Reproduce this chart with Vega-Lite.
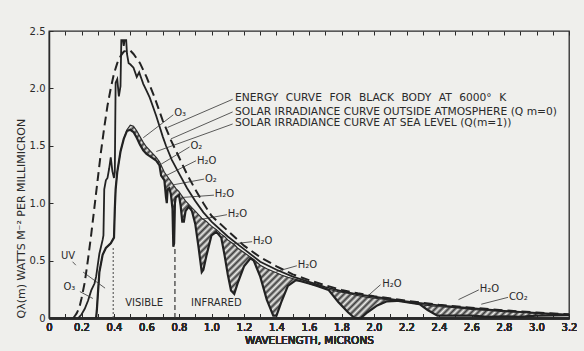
{
"$schema":"https://vega.github.io/schema/vega-lite/v6.json",
"width":520,"height":287,
"autosize":{"type":"none"},
"padding":{"left":49,"top":31,"right":15,"bottom":33},
"background":"#efefec",
"config":{"view":{"stroke":"#2a2a2a","strokeWidth":1.3},"font":"DejaVu Sans","text":{"font":"DejaVu Sans","fontSize":10,"color":"#2a2a2a"},
"axis":{"grid":false,"tickColor":"#2a2a2a","domainColor":"#2a2a2a","domainWidth":1.5,"labelFont":"DejaVu Sans","labelFontSize":10,"labelFontWeight":"normal","labelColor":"#2a2a2a","titleFont":"DejaVu Sans","titleFontWeight":"normal","titleColor":"#2a2a2a"},
"axisLeft":{"titleAnchor":"start","titleFontSize":11,"titlePadding":3},
"axisBottom":{"titleFontSize":10.5,"titlePadding":3}},
"datasets":{
"bb":[{"x":0.15,"y":0},{"x":0.16,"y":0.02},{"x":0.17,"y":0.04},{"x":0.18,"y":0.07},{"x":0.19,"y":0.11},{"x":0.2,"y":0.17},{"x":0.22,"y":0.31},{"x":0.24,"y":0.51},{"x":0.26,"y":0.73},{"x":0.28,"y":0.97},{"x":0.3,"y":1.21},{"x":0.32,"y":1.45},{"x":0.34,"y":1.66},{"x":0.36,"y":1.85},{"x":0.38,"y":2.0},{"x":0.4,"y":2.13},{"x":0.42,"y":2.22},{"x":0.44,"y":2.28},{"x":0.46,"y":2.32},{"x":0.48,"y":2.33},{"x":0.5,"y":2.33},{"x":0.52,"y":2.3},{"x":0.54,"y":2.26},{"x":0.56,"y":2.22},{"x":0.58,"y":2.16},{"x":0.6,"y":2.1},{"x":0.65,"y":1.92},{"x":0.7,"y":1.72},{"x":0.75,"y":1.55},{"x":0.8,"y":1.4},{"x":0.85,"y":1.25},{"x":0.9,"y":1.12},{"x":0.95,"y":1.0},{"x":1.0,"y":0.89},{"x":1.1,"y":0.76},{"x":1.2,"y":0.63},{"x":1.3,"y":0.53},{"x":1.4,"y":0.45},{"x":1.5,"y":0.38},{"x":1.6,"y":0.33},{"x":1.7,"y":0.285},{"x":1.8,"y":0.245},{"x":1.9,"y":0.215},{"x":2.0,"y":0.19},{"x":2.2,"y":0.15},{"x":2.4,"y":0.115},{"x":2.6,"y":0.09},{"x":2.8,"y":0.067},{"x":3.0,"y":0.048},{"x":3.2,"y":0.033}],
"outside":[{"x":0.18,"y":0},{"x":0.2,"y":0.03},{"x":0.22,"y":0.08},{"x":0.24,"y":0.15},{"x":0.26,"y":0.24},{"x":0.28,"y":0.3},{"x":0.29,"y":0.36},{"x":0.3,"y":0.46},{"x":0.31,"y":0.56},{"x":0.32,"y":0.62},{"x":0.33,"y":0.68},{"x":0.335,"y":0.72},{"x":0.34,"y":1.12},{"x":0.35,"y":1.2},{"x":0.36,"y":1.22},{"x":0.37,"y":1.3},{"x":0.38,"y":1.4},{"x":0.39,"y":1.28},{"x":0.4,"y":1.22},{"x":0.405,"y":1.27},{"x":0.41,"y":2.05},{"x":0.42,"y":2.08},{"x":0.43,"y":1.93},{"x":0.44,"y":2.02},{"x":0.445,"y":2.42},{"x":0.455,"y":2.42},{"x":0.46,"y":2.37},{"x":0.465,"y":2.42},{"x":0.475,"y":2.42},{"x":0.48,"y":2.3},{"x":0.49,"y":2.22},{"x":0.5,"y":2.21},{"x":0.52,"y":2.18},{"x":0.54,"y":2.1},{"x":0.555,"y":2.14},{"x":0.57,"y":2.08},{"x":0.58,"y":2.04},{"x":0.6,"y":1.98},{"x":0.62,"y":1.92},{"x":0.64,"y":1.84},{"x":0.66,"y":1.76},{"x":0.68,"y":1.67},{"x":0.7,"y":1.58},{"x":0.72,"y":1.5},{"x":0.755,"y":1.38},{"x":0.8,"y":1.26},{"x":0.85,"y":1.13},{"x":0.9,"y":1.02},{"x":0.95,"y":0.92},{"x":1.0,"y":0.84},{"x":1.1,"y":0.71},{"x":1.2,"y":0.6},{"x":1.3,"y":0.49},{"x":1.4,"y":0.42},{"x":1.5,"y":0.36},{"x":1.6,"y":0.315},{"x":1.7,"y":0.27},{"x":1.8,"y":0.235},{"x":1.9,"y":0.205},{"x":2.0,"y":0.185},{"x":2.2,"y":0.145},{"x":2.4,"y":0.11},{"x":2.6,"y":0.085},{"x":2.8,"y":0.062},{"x":3.0,"y":0.045},{"x":3.2,"y":0.03}],
"sea":[{"x":0.29,"lo":0,"up":0},{"x":0.295,"lo":0.08,"up":0.08},{"x":0.3,"lo":0.19,"up":0.19},{"x":0.31,"lo":0.4,"up":0.4},{"x":0.33,"lo":0.55,"up":0.55},{"x":0.35,"lo":0.61,"up":0.61},{"x":0.38,"lo":0.65,"up":0.65},{"x":0.4,"lo":0.7,"up":0.7},{"x":0.405,"lo":0.95,"up":0.95},{"x":0.41,"lo":1.12,"up":1.12},{"x":0.42,"lo":1.27,"up":1.27},{"x":0.44,"lo":1.45,"up":1.45},{"x":0.46,"lo":1.56,"up":1.56},{"x":0.48,"lo":1.63,"up":1.64},{"x":0.5,"lo":1.64,"up":1.68},{"x":0.52,"lo":1.62,"up":1.67},{"x":0.54,"lo":1.57,"up":1.63},{"x":0.56,"lo":1.51,"up":1.58},{"x":0.58,"lo":1.46,"up":1.53},{"x":0.6,"lo":1.43,"up":1.49},{"x":0.62,"lo":1.41,"up":1.46},{"x":0.64,"lo":1.39,"up":1.43},{"x":0.66,"lo":1.37,"up":1.4},{"x":0.68,"lo":1.33,"up":1.36},{"x":0.69,"lo":1.24,"up":1.33},{"x":0.7,"lo":1.22,"up":1.3},{"x":0.71,"lo":1.2,"up":1.27},{"x":0.72,"lo":1.05,"up":1.25},{"x":0.725,"lo":1.0,"up":1.24},{"x":0.73,"lo":1.12,"up":1.23},{"x":0.74,"lo":1.13,"up":1.21},{"x":0.75,"lo":1.08,"up":1.19},{"x":0.76,"lo":0.95,"up":1.17},{"x":0.765,"lo":0.62,"up":1.16},{"x":0.77,"lo":0.65,"up":1.15},{"x":0.775,"lo":1.0,"up":1.14},{"x":0.78,"lo":1.05,"up":1.13},{"x":0.8,"lo":1.07,"up":1.1},{"x":0.81,"lo":0.98,"up":1.08},{"x":0.82,"lo":0.84,"up":1.06},{"x":0.83,"lo":0.84,"up":1.04},{"x":0.84,"lo":0.93,"up":1.02},{"x":0.86,"lo":0.97,"up":0.99},{"x":0.88,"lo":0.93,"up":0.96},{"x":0.9,"lo":0.82,"up":0.93},{"x":0.92,"lo":0.62,"up":0.9},{"x":0.94,"lo":0.4,"up":0.87},{"x":0.95,"lo":0.42,"up":0.86},{"x":0.97,"lo":0.55,"up":0.84},{"x":1.0,"lo":0.72,"up":0.8},{"x":1.03,"lo":0.75,"up":0.77},{"x":1.06,"lo":0.7,"up":0.73},{"x":1.08,"lo":0.55,"up":0.71},{"x":1.1,"lo":0.38,"up":0.68},{"x":1.12,"lo":0.24,"up":0.66},{"x":1.14,"lo":0.21,"up":0.64},{"x":1.16,"lo":0.3,"up":0.61},{"x":1.2,"lo":0.45,"up":0.57},{"x":1.24,"lo":0.52,"up":0.53},{"x":1.26,"lo":0.5,"up":0.51},{"x":1.3,"lo":0.36,"up":0.46},{"x":1.34,"lo":0.16,"up":0.43},{"x":1.38,"lo":0.02,"up":0.405},{"x":1.4,"lo":0.02,"up":0.395},{"x":1.43,"lo":0.14,"up":0.375},{"x":1.47,"lo":0.28,"up":0.355},{"x":1.52,"lo":0.33,"up":0.335},{"x":1.55,"lo":0.32,"up":0.322},{"x":1.6,"lo":0.3,"up":0.3},{"x":1.65,"lo":0.28,"up":0.28},{"x":1.72,"lo":0.245,"up":0.25},{"x":1.78,"lo":0.14,"up":0.23},{"x":1.84,"lo":0.05,"up":0.215},{"x":1.88,"lo":0,"up":0.2},{"x":1.92,"lo":0,"up":0.19},{"x":1.96,"lo":0.05,"up":0.18},{"x":2.02,"lo":0.11,"up":0.17},{"x":2.08,"lo":0.145,"up":0.16},{"x":2.14,"lo":0.15,"up":0.15},{"x":2.28,"lo":0.12,"up":0.12},{"x":2.33,"lo":0.07,"up":0.11},{"x":2.39,"lo":0.02,"up":0.1},{"x":2.5,"lo":0.02,"up":0.09},{"x":2.6,"lo":0.02,"up":0.075},{"x":2.7,"lo":0.01,"up":0.065},{"x":2.8,"lo":0.015,"up":0.055},{"x":2.9,"lo":0.01,"up":0.05},{"x":3.0,"lo":0.02,"up":0.04},{"x":3.2,"lo":0.025,"up":0.027}],
"leaders":[{"x":1.13,"y":1.905,"x2":0.73,"y2":1.66},{"x":1.13,"y":1.795,"x2":0.75,"y2":1.56},{"x":1.13,"y":1.69,"x2":0.66,"y2":1.45},{"x":0.765,"y":1.77,"x2":0.58,"y2":1.57},{"x":0.865,"y":1.49,"x2":0.69,"y2":1.34},{"x":0.905,"y":1.37,"x2":0.72,"y2":1.24},{"x":0.955,"y":1.21,"x2":0.765,"y2":1.16},{"x":1.015,"y":1.07,"x2":0.82,"y2":1.05},{"x":1.095,"y":0.9,"x2":0.94,"y2":0.86},{"x":1.25,"y":0.665,"x2":1.13,"y2":0.645},{"x":1.525,"y":0.455,"x2":1.4,"y2":0.405},{"x":2.04,"y":0.29,"x2":1.96,"y2":0.19},{"x":2.645,"y":0.245,"x2":2.52,"y2":0.16},{"x":2.825,"y":0.18,"x2":2.66,"y2":0.12},{"x":0.145,"y":0.49,"x2":0.165,"y2":0.46},{"x":0.21,"y":0.4,"x2":0.345,"y2":0.26},{"x":0.19,"y":0.23,"x2":0.27,"y2":0.17}],
"labels":[{"x":0.77,"y":1.79,"t":"O₃"},{"x":0.87,"y":1.5,"t":"O₂"},{"x":0.91,"y":1.37,"t":"H₂O"},{"x":0.96,"y":1.21,"t":"O₂"},{"x":1.02,"y":1.08,"t":"H₂O"},{"x":1.1,"y":0.91,"t":"H₂O"},{"x":1.255,"y":0.67,"t":"H₂O"},{"x":1.53,"y":0.46,"t":"H₂O"},{"x":2.05,"y":0.3,"t":"H₂O"},{"x":2.65,"y":0.25,"t":"H₂O"},{"x":2.83,"y":0.18,"t":"CO₂"}],
"legend":[{"x":1.145,"y":1.914,"t":"ENERGY\u2002\u2009CURVE\u2002\u2009FOR\u2002\u2009BLACK\u2002\u2009BODY\u2002\u2009AT\u2002\u20096000°\u2002\u2009K"},{"x":1.145,"y":1.797,"t":"SOLAR IRRADIANCE CURVE OUTSIDE ATMOSPHERE (Q m=0)"},{"x":1.145,"y":1.696,"t":"SOLAR IRRADIANCE CURVE AT SEA LEVEL (Q(m=1))"}],
"clabels":[{"x":0.585,"y":0.128,"t":"VISIBLE"},{"x":1.03,"y":0.13,"t":"INFRARED"},{"x":0.117,"y":0.54,"t":"UV"},{"x":0.125,"y":0.27,"t":"O₃"}]
},
"encoding":{"x":{"field":"x","type":"quantitative","scale":{"domain":[0,3.2],"nice":false,"zero":false},
"axis":{"orient":"bottom","values":[0,0.1,0.2,0.3,0.4,0.5,0.6,0.7,0.8,0.9,1.0,1.1,1.2,1.3,1.4,1.5,1.6,1.7,1.8,1.9,2.0,2.1,2.2,2.3,2.4,2.5,2.6,2.7,2.8,2.9,3.0,3.1,3.2],"labelExpr":"round(datum.value*10)%2==0 ? (datum.value==0 ? '0' : format(datum.value,'.1f')) : ''","labelOverlap":false,"labelFlush":false,"tickSize":-4,"labelPadding":8,"title":"WAVELENGTH, MICRONS"}}},
"layer":[
{"data":{"name":"sea"},"mark":{"type":"area","fill":{"gradient":"linear","x1":0,"y1":0,"x2":1.2,"y2":0.49,"stops":[
{"offset":0,"color":"#3c3c3c"},{"offset":0.005,"color":"#ededea"},{"offset":0.01,"color":"#3c3c3c"},{"offset":0.015,"color":"#ededea"},{"offset":0.02,"color":"#3c3c3c"},{"offset":0.025,"color":"#ededea"},{"offset":0.03,"color":"#3c3c3c"},{"offset":0.035,"color":"#ededea"},{"offset":0.04,"color":"#3c3c3c"},{"offset":0.045,"color":"#ededea"},
{"offset":0.05,"color":"#3c3c3c"},{"offset":0.055,"color":"#ededea"},{"offset":0.06,"color":"#3c3c3c"},{"offset":0.065,"color":"#ededea"},{"offset":0.07,"color":"#3c3c3c"},{"offset":0.075,"color":"#ededea"},{"offset":0.08,"color":"#3c3c3c"},{"offset":0.085,"color":"#ededea"},{"offset":0.09,"color":"#3c3c3c"},{"offset":0.095,"color":"#ededea"},
{"offset":0.1,"color":"#3c3c3c"},{"offset":0.105,"color":"#ededea"},{"offset":0.11,"color":"#3c3c3c"},{"offset":0.115,"color":"#ededea"},{"offset":0.12,"color":"#3c3c3c"},{"offset":0.125,"color":"#ededea"},{"offset":0.13,"color":"#3c3c3c"},{"offset":0.135,"color":"#ededea"},{"offset":0.14,"color":"#3c3c3c"},{"offset":0.145,"color":"#ededea"},
{"offset":0.15,"color":"#3c3c3c"},{"offset":0.155,"color":"#ededea"},{"offset":0.16,"color":"#3c3c3c"},{"offset":0.165,"color":"#ededea"},{"offset":0.17,"color":"#3c3c3c"},{"offset":0.175,"color":"#ededea"},{"offset":0.18,"color":"#3c3c3c"},{"offset":0.185,"color":"#ededea"},{"offset":0.19,"color":"#3c3c3c"},{"offset":0.195,"color":"#ededea"},
{"offset":0.2,"color":"#3c3c3c"},{"offset":0.205,"color":"#ededea"},{"offset":0.21,"color":"#3c3c3c"},{"offset":0.215,"color":"#ededea"},{"offset":0.22,"color":"#3c3c3c"},{"offset":0.225,"color":"#ededea"},{"offset":0.23,"color":"#3c3c3c"},{"offset":0.235,"color":"#ededea"},{"offset":0.24,"color":"#3c3c3c"},{"offset":0.245,"color":"#ededea"},
{"offset":0.25,"color":"#3c3c3c"},{"offset":0.255,"color":"#ededea"},{"offset":0.26,"color":"#3c3c3c"},{"offset":0.265,"color":"#ededea"},{"offset":0.27,"color":"#3c3c3c"},{"offset":0.275,"color":"#ededea"},{"offset":0.28,"color":"#3c3c3c"},{"offset":0.285,"color":"#ededea"},{"offset":0.29,"color":"#3c3c3c"},{"offset":0.295,"color":"#ededea"},
{"offset":0.3,"color":"#3c3c3c"},{"offset":0.305,"color":"#ededea"},{"offset":0.31,"color":"#3c3c3c"},{"offset":0.315,"color":"#ededea"},{"offset":0.32,"color":"#3c3c3c"},{"offset":0.325,"color":"#ededea"},{"offset":0.33,"color":"#3c3c3c"},{"offset":0.335,"color":"#ededea"},{"offset":0.34,"color":"#3c3c3c"},{"offset":0.345,"color":"#ededea"},
{"offset":0.35,"color":"#3c3c3c"},{"offset":0.355,"color":"#ededea"},{"offset":0.36,"color":"#3c3c3c"},{"offset":0.365,"color":"#ededea"},{"offset":0.37,"color":"#3c3c3c"},{"offset":0.375,"color":"#ededea"},{"offset":0.38,"color":"#3c3c3c"},{"offset":0.385,"color":"#ededea"},{"offset":0.39,"color":"#3c3c3c"},{"offset":0.395,"color":"#ededea"},
{"offset":0.4,"color":"#3c3c3c"},{"offset":0.405,"color":"#ededea"},{"offset":0.41,"color":"#3c3c3c"},{"offset":0.415,"color":"#ededea"},{"offset":0.42,"color":"#3c3c3c"},{"offset":0.425,"color":"#ededea"},{"offset":0.43,"color":"#3c3c3c"},{"offset":0.435,"color":"#ededea"},{"offset":0.44,"color":"#3c3c3c"},{"offset":0.445,"color":"#ededea"},
{"offset":0.45,"color":"#3c3c3c"},{"offset":0.455,"color":"#ededea"},{"offset":0.46,"color":"#3c3c3c"},{"offset":0.465,"color":"#ededea"},{"offset":0.47,"color":"#3c3c3c"},{"offset":0.475,"color":"#ededea"},{"offset":0.48,"color":"#3c3c3c"},{"offset":0.485,"color":"#ededea"},{"offset":0.49,"color":"#3c3c3c"},{"offset":0.495,"color":"#ededea"},
{"offset":0.5,"color":"#3c3c3c"},{"offset":0.505,"color":"#ededea"},{"offset":0.51,"color":"#3c3c3c"},{"offset":0.515,"color":"#ededea"},{"offset":0.52,"color":"#3c3c3c"},{"offset":0.525,"color":"#ededea"},{"offset":0.53,"color":"#3c3c3c"},{"offset":0.535,"color":"#ededea"},{"offset":0.54,"color":"#3c3c3c"},{"offset":0.545,"color":"#ededea"},
{"offset":0.55,"color":"#3c3c3c"},{"offset":0.555,"color":"#ededea"},{"offset":0.56,"color":"#3c3c3c"},{"offset":0.565,"color":"#ededea"},{"offset":0.57,"color":"#3c3c3c"},{"offset":0.575,"color":"#ededea"},{"offset":0.58,"color":"#3c3c3c"},{"offset":0.585,"color":"#ededea"},{"offset":0.59,"color":"#3c3c3c"},{"offset":0.595,"color":"#ededea"},
{"offset":0.6,"color":"#3c3c3c"},{"offset":0.605,"color":"#ededea"},{"offset":0.61,"color":"#3c3c3c"},{"offset":0.615,"color":"#ededea"},{"offset":0.62,"color":"#3c3c3c"},{"offset":0.625,"color":"#ededea"},{"offset":0.63,"color":"#3c3c3c"},{"offset":0.635,"color":"#ededea"},{"offset":0.64,"color":"#3c3c3c"},{"offset":0.645,"color":"#ededea"},
{"offset":0.65,"color":"#3c3c3c"},{"offset":0.655,"color":"#ededea"},{"offset":0.66,"color":"#3c3c3c"},{"offset":0.665,"color":"#ededea"},{"offset":0.67,"color":"#3c3c3c"},{"offset":0.675,"color":"#ededea"},{"offset":0.68,"color":"#3c3c3c"},{"offset":0.685,"color":"#ededea"},{"offset":0.69,"color":"#3c3c3c"},{"offset":0.695,"color":"#ededea"},
{"offset":0.7,"color":"#3c3c3c"},{"offset":0.705,"color":"#ededea"},{"offset":0.71,"color":"#3c3c3c"},{"offset":0.715,"color":"#ededea"},{"offset":0.72,"color":"#3c3c3c"},{"offset":0.725,"color":"#ededea"},{"offset":0.73,"color":"#3c3c3c"},{"offset":0.735,"color":"#ededea"},{"offset":0.74,"color":"#3c3c3c"},{"offset":0.745,"color":"#ededea"},
{"offset":0.75,"color":"#3c3c3c"},{"offset":0.755,"color":"#ededea"},{"offset":0.76,"color":"#3c3c3c"},{"offset":0.765,"color":"#ededea"},{"offset":0.77,"color":"#3c3c3c"},{"offset":0.775,"color":"#ededea"},{"offset":0.78,"color":"#3c3c3c"},{"offset":0.785,"color":"#ededea"},{"offset":0.79,"color":"#3c3c3c"},{"offset":0.795,"color":"#ededea"},
{"offset":0.8,"color":"#3c3c3c"},{"offset":0.805,"color":"#ededea"},{"offset":0.81,"color":"#3c3c3c"},{"offset":0.815,"color":"#ededea"},{"offset":0.82,"color":"#3c3c3c"},{"offset":0.825,"color":"#ededea"},{"offset":0.83,"color":"#3c3c3c"},{"offset":0.835,"color":"#ededea"},{"offset":0.84,"color":"#3c3c3c"},{"offset":0.845,"color":"#ededea"},
{"offset":0.85,"color":"#3c3c3c"},{"offset":0.855,"color":"#ededea"},{"offset":0.86,"color":"#3c3c3c"},{"offset":0.865,"color":"#ededea"},{"offset":0.87,"color":"#3c3c3c"},{"offset":0.875,"color":"#ededea"},{"offset":0.88,"color":"#3c3c3c"},{"offset":0.885,"color":"#ededea"},{"offset":0.89,"color":"#3c3c3c"},{"offset":0.895,"color":"#ededea"},
{"offset":0.9,"color":"#3c3c3c"},{"offset":0.905,"color":"#ededea"},{"offset":0.91,"color":"#3c3c3c"},{"offset":0.915,"color":"#ededea"},{"offset":0.92,"color":"#3c3c3c"},{"offset":0.925,"color":"#ededea"},{"offset":0.93,"color":"#3c3c3c"},{"offset":0.935,"color":"#ededea"},{"offset":0.94,"color":"#3c3c3c"},{"offset":0.945,"color":"#ededea"},
{"offset":0.95,"color":"#3c3c3c"},{"offset":0.955,"color":"#ededea"},{"offset":0.96,"color":"#3c3c3c"},{"offset":0.965,"color":"#ededea"},{"offset":0.97,"color":"#3c3c3c"},{"offset":0.975,"color":"#ededea"},{"offset":0.98,"color":"#3c3c3c"},{"offset":0.985,"color":"#ededea"},{"offset":0.99,"color":"#3c3c3c"},{"offset":0.995,"color":"#ededea"},
{"offset":1,"color":"#3c3c3c"}]}},
"encoding":{"y":{"field":"lo","type":"quantitative","scale":{"domain":[0,2.5],"nice":false,"zero":false},
"axis":{"orient":"left","values":[0,0.5,1,1.5,2,2.5],"labelExpr":"datum.value==0 ? '0' : format(datum.value,'.1f')","tickSize":-4,"labelPadding":8,"title":"Qλ(m) WATTS M⁻² PER MILLIMICRON"}},
"y2":{"field":"up"}}},
{"data":{"name":"sea"},"mark":{"type":"line","color":"#2a2a2a","strokeWidth":1.1},"encoding":{"y":{"field":"up","type":"quantitative"}}},
{"data":{"name":"sea"},"mark":{"type":"line","color":"#222222","strokeWidth":2.2},"encoding":{"y":{"field":"lo","type":"quantitative"}}},
{"data":{"name":"outside"},"mark":{"type":"line","color":"#222222","strokeWidth":1.8},"encoding":{"y":{"field":"y","type":"quantitative"}}},
{"data":{"name":"bb"},"mark":{"type":"line","color":"#222222","strokeWidth":2,"strokeDash":[9,5]},"encoding":{"x":{"field":"x","type":"quantitative","axis":{"orient":"top","values":[0,0.1,0.2,0.3,0.4,0.5,0.6,0.7,0.8,0.9,1.0,1.1,1.2,1.3,1.4,1.5,1.6,1.7,1.8,1.9,2.0,2.1,2.2,2.3,2.4,2.5,2.6,2.7,2.8,2.9,3.0,3.1,3.2],"labels":false,"tickSize":-4,"domain":false,"title":null}},"y":{"field":"y","type":"quantitative"}}},
{"data":{"values":[{"x":0.395,"y":0,"y2":0.62}]},"mark":{"type":"rule","color":"#444444","strokeWidth":1,"strokeDash":[2,2]},"encoding":{"y":{"field":"y","type":"quantitative"},"y2":{"field":"y2"}}},
{"data":{"values":[{"x":0.775,"y":0,"y2":0.62}]},"mark":{"type":"rule","color":"#333333","strokeWidth":1.2,"strokeDash":[5,3]},"encoding":{"y":{"field":"y","type":"quantitative"},"y2":{"field":"y2"}}},
{"data":{"name":"leaders"},"mark":{"type":"rule","color":"#333333","strokeWidth":0.8},"encoding":{"y":{"field":"y","type":"quantitative"},"x2":{"field":"x2"},"y2":{"field":"y2"}}},
{"data":{"name":"labels"},"mark":{"type":"text","align":"left","baseline":"middle"},"encoding":{"y":{"field":"y","type":"quantitative"},"text":{"field":"t"}}},
{"data":{"name":"legend"},"mark":{"type":"text","align":"left","baseline":"middle","fontSize":10.7},"encoding":{"y":{"field":"y","type":"quantitative"},"text":{"field":"t"}}},
{"data":{"name":"clabels"},"mark":{"type":"text","align":"center","baseline":"middle"},"encoding":{"y":{"field":"y","type":"quantitative"},"text":{"field":"t"}}}
]
}
